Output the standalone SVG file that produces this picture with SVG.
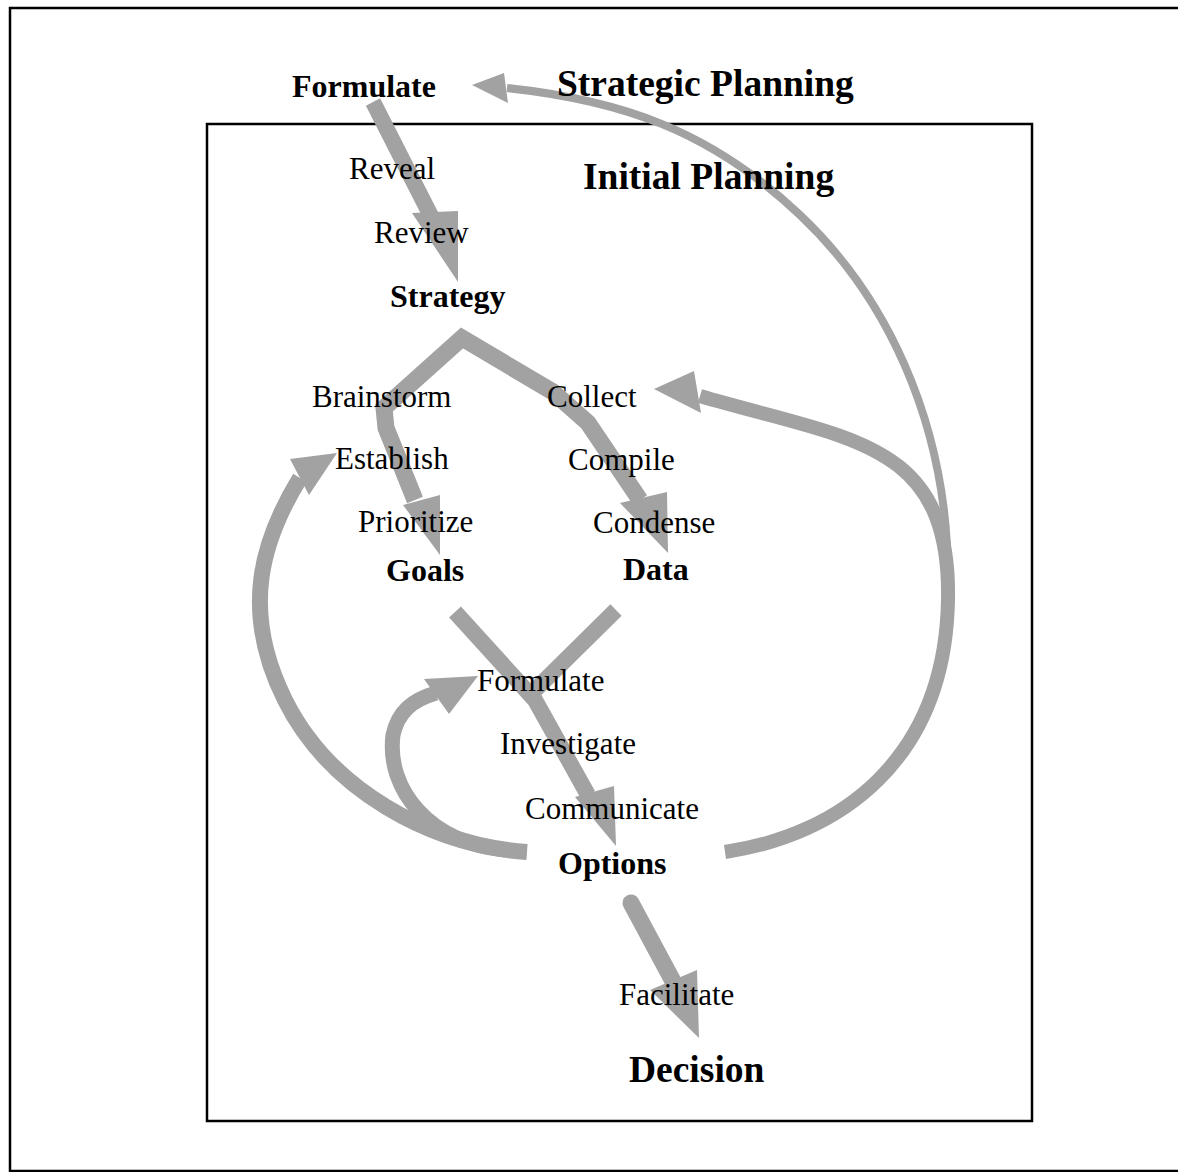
<svg xmlns="http://www.w3.org/2000/svg" width="1178" height="1172" viewBox="0 0 1178 1172">
  <defs>
    <style>
      .frame { fill: none; stroke: #000; stroke-width: 2.5; }
      .shaft { fill: none; stroke: #a2a2a2; stroke-linejoin: miter; }
      .head { fill: #a2a2a2; stroke: none; }
      text { font-family: "Liberation Serif", "Times New Roman", serif; fill: #000; }
      .step { font-size: 31px; }
      .stage { font-size: 32px; font-weight: bold; }
      .title { font-size: 37.5px; font-weight: bold; }
    </style>
  </defs>
  <rect width="1178" height="1172" fill="#ffffff"/>

  <!-- outer sheet border (open on the right) -->
  <path class="frame" d="M1178,8 L10,8 L10,1171 L1178,1171"/>
  <!-- initial planning box -->
  <rect class="frame" x="207" y="124" width="825" height="997"/>

  <g id="connectors">
    <!-- Formulate -> Strategy -->
    <path class="shaft" stroke-width="16" d="M373,102 L432,218"/>
    <polygon class="head" points="412,213 458,211 458,282"/>

    <!-- Strategy splits to Goals and Data -->
    <path class="shaft" stroke-width="17" d="M415,500 L386,428 L384,408 L462,338 L553,392 L588,423 L640,500"/>
    <polygon class="head" points="403,505 440,495 440,555"/>
    <polygon class="head" points="620,503 667,492 668,553"/>

    <!-- Goals -> Options -->
    <path class="shaft" stroke-width="16" d="M455,612 L535,700 L588,795"/>
    <polygon class="head" points="575,797 614,786 616,846"/>
    <!-- Data joins the stream -->
    <path class="shaft" stroke-width="16" d="M616,610 L533,692"/>

    <!-- Options -> Decision -->
    <path class="shaft" stroke-width="17" stroke-linecap="round" d="M631,903 L675,985"/>
    <polygon class="head" points="650,990 697,970 699,1038"/>

    <!-- Options loops back to Establish -->
    <path class="shaft" stroke-width="16" d="M527,852 C430,845 330,790 285,700 S262,540 300,478"/>
    <polygon class="head" points="290,459 337,453 309,495"/>

    <!-- Options loops back to Formulate -->
    <path class="shaft" stroke-width="15" d="M505,850 C430,843 386,790 393,735 C398,712 412,700 436,693"/>
    <polygon class="head" points="424,679 478,676 449,714"/>

    <!-- Options loops back to Collect -->
    <path class="shaft" stroke-width="14" d="M725,852 C840,835 945,760 948,600 S850,440 700,396"/>
    <polygon class="head" points="654,389 694,371 701,413"/>

    <!-- feedback to Strategic Planning -->
    <path class="shaft" stroke-width="8" d="M947,545 C940,420 890,300 800,215 S620,100 507,88"/>
    <polygon class="head" points="472,85 504,73 508,103"/>
  </g>

  <g id="strategic-planning"><text class="title" x="557" y="96">Strategic Planning</text></g>
  <g id="formulate-strategic"><text class="stage" x="292" y="97">Formulate</text></g>
  <g id="initial-planning"><text class="title" x="583" y="189">Initial Planning</text></g>

  <g id="reveal"><text class="step" x="349" y="179">Reveal</text></g>
  <g id="review"><text class="step" x="374" y="243">Review</text></g>
  <g id="strategy"><text class="stage" x="390" y="307">Strategy</text></g>

  <g id="brainstorm"><text class="step" x="312" y="407">Brainstorm</text></g>
  <g id="establish"><text class="step" x="335" y="469">Establish</text></g>
  <g id="prioritize"><text class="step" x="358" y="532">Prioritize</text></g>
  <g id="goals"><text class="stage" x="386" y="581">Goals</text></g>

  <g id="collect"><text class="step" x="547" y="407">Collect</text></g>
  <g id="compile"><text class="step" x="568" y="470">Compile</text></g>
  <g id="condense"><text class="step" x="593" y="533">Condense</text></g>
  <g id="data"><text class="stage" x="623" y="580">Data</text></g>

  <g id="formulate-options"><text class="step" x="477" y="691">Formulate</text></g>
  <g id="investigate"><text class="step" x="500" y="754">Investigate</text></g>
  <g id="communicate"><text class="step" x="525" y="819">Communicate</text></g>
  <g id="options"><text class="stage" x="558" y="874">Options</text></g>

  <g id="facilitate"><text class="step" x="619" y="1005">Facilitate</text></g>
  <g id="decision"><text class="title" x="629" y="1082">Decision</text></g>
</svg>
